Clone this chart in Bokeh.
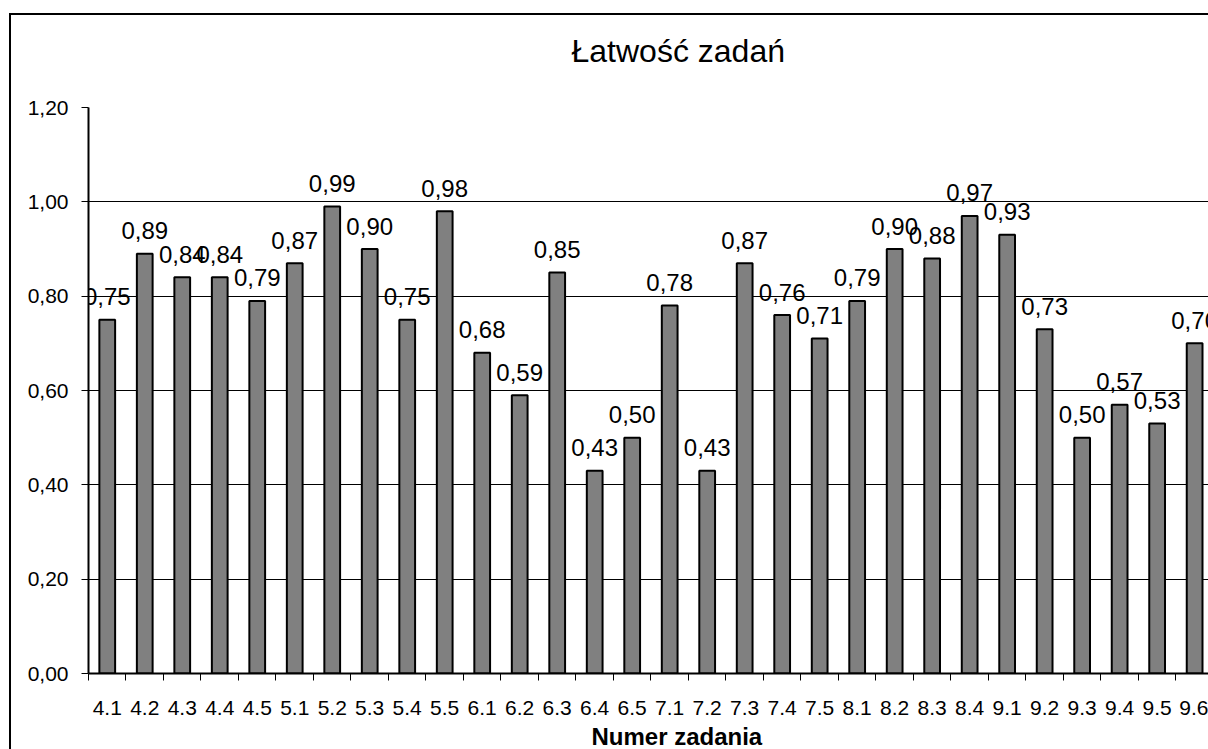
from bokeh.plotting import figure
from bokeh.models import (ColumnDataSource, Range1d, FixedTicker, CustomJSTickFormatter,
                          LabelSet, Title, LinearAxis)
from bokeh.core.properties import value
from bokeh.embed import file_html
from bokeh.resources import INLINE

# ---- data ----
categories = ["4.1", "4.2", "4.3", "4.4", "4.5", "5.1", "5.2", "5.3", "5.4", "5.5",
              "6.1", "6.2", "6.3", "6.4", "6.5", "7.1", "7.2", "7.3", "7.4", "7.5",
              "8.1", "8.2", "8.3", "8.4", "9.1", "9.2", "9.3", "9.4", "9.5", "9.6"]
values = [0.75, 0.89, 0.84, 0.84, 0.79, 0.87, 0.99, 0.90, 0.75, 0.98,
          0.68, 0.59, 0.85, 0.43, 0.50, 0.78, 0.43, 0.87, 0.76, 0.71,
          0.79, 0.90, 0.88, 0.97, 0.93, 0.73, 0.50, 0.57, 0.53, 0.70]
y_ticks = [0.0, 0.2, 0.4, 0.6, 0.8, 1.0, 1.2]
title_text = "Łatwość zadań"
x_title = "Numer zadania"

FONT = "Liberation Sans"

xs = [i + 0.5 for i in range(len(categories))]
labels = [f"{v:.2f}".replace(".", ",") for v in values]
src = ColumnDataSource(dict(x=xs, top=values, label=labels))

p = figure(width=1197, height=744, output_backend="svg", toolbar_location=None,
           x_range=Range1d(0, 29.87), y_range=Range1d(0, 1.2),
           min_border_left=77, min_border_right=0, min_border_top=92, min_border_bottom=86,
           background_fill_color="white", border_fill_color="white")
p.outline_line_color = None
# outer chart border: an outline outside the element; only its left/top edges fall in the window
p.styles = {"margin-left": "11px", "margin-top": "15px",
            "outline": "2px solid black"}

p.vbar(x="x", top="top", width=0.42, source=src,
       fill_color="#808080", line_color="black", line_width=2)

# y axis
p.yaxis.ticker = FixedTicker(ticks=y_ticks, minor_ticks=[])
p.yaxis.formatter = CustomJSTickFormatter(code="return tick.toFixed(2).replace('.', ',');")
p.yaxis.axis_line_color = "black"
p.yaxis.axis_line_width = 2
p.yaxis.major_tick_out = 7
p.yaxis.major_tick_in = 0
p.yaxis.major_tick_line_color = "black"
p.yaxis.major_tick_line_width = 1
p.yaxis.minor_tick_line_color = None
p.yaxis.major_label_standoff = 13
p.yaxis.major_label_text_font = FONT
p.yaxis.major_label_text_font_size = "21px"
p.yaxis.major_label_text_color = "black"

# x axis
p.xaxis.ticker = FixedTicker(ticks=xs, minor_ticks=list(range(len(categories) + 1)))
p.xaxis.formatter = CustomJSTickFormatter(args=dict(labels=categories),
                                          code="return labels[Math.floor(tick)];")
p.xaxis.axis_line_color = "black"
p.xaxis.axis_line_width = 2
p.xaxis.major_tick_out = 0
p.xaxis.major_tick_in = 0
p.xaxis.minor_tick_out = 7
p.xaxis.minor_tick_in = 0
p.xaxis.minor_tick_line_color = "black"
p.xaxis.minor_tick_line_width = 1
p.xaxis.major_label_standoff = 20
p.xaxis.major_label_text_font = FONT
p.xaxis.major_label_text_font_size = "21px"
p.xaxis.major_label_text_color = "black"

p.xgrid.grid_line_color = None
p.ygrid.ticker = FixedTicker(ticks=y_ticks)
p.ygrid.grid_line_color = "black"
p.ygrid.grid_line_width = 1

# data labels
p.add_layout(LabelSet(x="x", y="top", text="label", source=src,
                      text_align="center", text_baseline="middle", y_offset=23,
                      text_font=value(FONT), text_font_size=value("24px"),
                      text_color="black"))

# invisible spacer between plot area and title (one hidden tick, empty label, no line)
spacer = LinearAxis(ticker=FixedTicker(ticks=[1.0], minor_ticks=[]),
                    formatter=CustomJSTickFormatter(code="return '';"),
                    major_tick_out=39, major_tick_in=0, minor_tick_out=0, minor_tick_in=0,
                    axis_line_color=None, major_tick_line_color=None,
                    minor_tick_line_color=None, major_label_standoff=0,
                    major_label_text_font_size="1px")
p.add_layout(spacer, "above")

# chart title
p.title.text = title_text
p.title.align = "left"
p.title.offset = 483
p.title.standoff = 0
p.title.text_font = FONT
p.title.text_font_size = "32px"
p.title.text_font_style = "normal"
p.title.text_color = "black"

# x axis title
p.add_layout(Title(text=x_title, align="left", offset=503, standoff=7,
                   text_font=FONT, text_font_size="24px", text_font_style="bold",
                   text_color="black"), "below")

open("out.html", "w").write(file_html(p, INLINE))
